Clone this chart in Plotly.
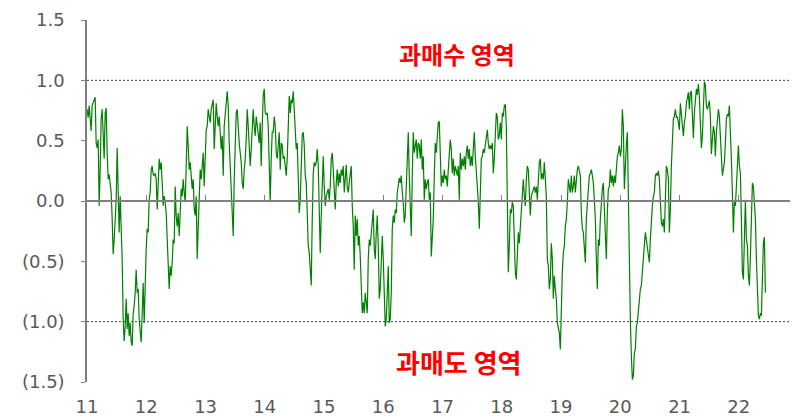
import plotly.graph_objects as go
import pandas as pd

# ---- tick labels ----
tick_years = ["2011-01-01", "2012-01-01", "2013-01-01", "2014-01-01", "2015-01-01", "2016-01-01",
              "2017-01-01", "2018-01-01", "2019-01-01", "2020-01-01", "2021-01-01", "2022-01-01"]
tick_labels = ["11", "12", "13", "14", "15", "16", "17", "18", "19", "20", "21", "22"]
y_ticks = [-1.5, -1.0, -0.5, 0.0, 0.5, 1.0, 1.5]
y_tick_labels = ["(1.5)", "(1.0)", "(0.5)", "0.0", "0.5", "1.0", "1.5"]

# ---- series values (roughly weekly readings, consecutive segments) ----
seg_2011 = [0.76, 0.69, 0.79, 0.65, 0.58, 0.79, 0.81, 0.84, 0.86, 0.48,
            0.44, 0.51, -0.04, 0.26, 0.68, 0.76, 0.48, 0.35, 0.73, 0.77,
            0.40, 0.18, 0.22, 0.15, 0.07, -0.15, -0.44, -0.32, -0.15, 0.01,
            0.44, 0.07, -0.26, 0.04, -0.15, -0.48, -0.98, -1.16, -1.04, -0.81,
            -1.06, -0.93, -1.12, -1.01, -1.17, -1.20, -0.93, -0.87, -0.76, -0.57,
            -0.76, -0.73, -0.98, -1.12, -1.17, -0.93, -0.68, -1.01, -0.62, -0.40,
            -0.23, -0.26, 0.01, 0.07, 0.26, 0.29, 0.22, 0.21, 0.23, 0.18,
            -0.07, 0.21, 0.35, 0.26, 0.32, 0.15, -0.04, 0.04, -0.01, -0.10,
            -0.37, -0.54, -0.73, -0.54, -0.62, -0.51, -0.32]
seg_2012 = [-0.35, 0.12, -0.12, -0.21, -0.10, -0.29, -0.10, 0.10, 0.04, 0.18,
            0.07, -0.01, 0.29, 0.62, 0.46, 0.26, 0.32, 0.18, 0.10, 0.18,
            -0.07, -0.12, 0.04, -0.48, -0.21, 0.12, 0.26, 0.18, 0.35, 0.40,
            0.12, 0.48, 0.59, 0.62, 0.76, 0.70, 0.65, 0.76, 0.81, 0.84,
            0.43, 0.62, 0.81, 0.70, 0.62, 0.70, 0.57, 0.43, 0.54, 0.21,
            0.62, 0.76, 0.81, 0.91, 0.79, 0.48, 0.29, 0.21, 0.04, -0.29,
            0.18, 0.62, 0.73, 0.76, 0.59, 0.48, 0.40, 0.32, 0.15, 0.10,
            0.26, 0.35, 0.51, 0.76, 0.62, 0.43, 0.29, 0.43, 0.62, 0.76,
            0.62, 0.54, 0.70, 0.62, 0.59, 0.48]
seg_2014 = [0.65, 0.29, 0.62, 0.87, 0.93, 0.73, 0.72, 0.73, 0.62, 0.12,
            -0.01, 0.35, 0.57, 0.57, 0.70, 0.62, 0.40, 0.35, 0.46, 0.57,
            0.26, 0.48, 0.46, 0.35, 0.37, 0.29, 0.21, 0.35, 0.54, 0.87,
            0.73, 0.84, 0.81, 0.91, 0.76, 0.51, 0.43, 0.48, 0.12, -0.10,
            0.01, 0.40, 0.55, 0.57, 0.46, 0.21, 0.15, -0.10, -0.37, -0.43,
            -0.62, -0.70, -0.15, 0.23, 0.32, 0.29, 0.32, 0.43, 0.29, 0.01,
            -0.43, -0.12, 0.26, 0.37, 0.12, -0.04, 0.04, 0.07, 0.10, 0.01,
            0.12, 0.35, 0.40, 0.26, 0.01, -0.07, 0.15, 0.26, 0.12, 0.23,
            0.15, 0.26, 0.21, 0.29, 0.07, 0.23]
seg_2015 = [0.30, 0.12, 0.07, 0.15, 0.26, 0.29, -0.04, -0.21, -0.57, -0.12,
            -0.29, -0.15, -0.37, -0.29, -0.46, -0.76, -0.93, -0.84, -0.93, -0.76,
            -0.87, -0.93, -0.48, -0.32, -0.37, -0.26, -0.15, -0.07, -0.40, -0.48,
            -0.26, -0.12, -0.37, -0.81, -0.73, -0.48, -0.29, -0.48, -0.87, -1.04,
            -0.98, -0.76, -0.54, -1.01, -0.98, -0.76, -0.23, -0.12, -0.18, -0.07,
            -0.10, 0.07, 0.12, 0.19, 0.15, 0.21, 0.07, -0.01, -0.18, -0.12,
            0.12, 0.40, 0.57, 0.21, -0.01, -0.29, 0.21, 0.57, 0.40, 0.48,
            0.51, 0.35, 0.48, 0.46, 0.35, 0.51, 0.26, 0.37, 0.01, 0.18,
            0.10, 0.15, 0.18, 0.01, 0.07, -0.46]
seg_2017 = [-0.30, -0.15, 0.21, 0.48, 0.40, 0.54, 0.65, 0.66, 0.35, 0.12,
            0.21, 0.15, 0.26, 0.18, 0.21, 0.12, 0.26, 0.40, 0.51, 0.43,
            0.23, 0.35, 0.21, 0.29, 0.23, 0.21, 0.29, 0.01, 0.40, 0.26,
            0.35, 0.29, 0.37, 0.26, 0.40, 0.46, 0.35, 0.43, 0.29, 0.37,
            0.29, 0.46, 0.57, 0.37, 0.26, 0.10, -0.01, -0.23, 0.07, 0.35,
            0.37, 0.43, 0.40, 0.46, 0.51, 0.59, 0.48, 0.43, 0.46, 0.43,
            0.48, 0.23, 0.35, 0.54, 0.73, 0.70, 0.51, 0.54, 0.65, 0.51,
            0.73, 0.70, 0.79, 0.80, 0.62, 0.01, -0.59, -0.37, -0.07, -0.10,
            -0.01, -0.04, -0.48, -0.59, -0.65, -0.48]
seg_2018 = [-0.26, -0.35, -0.21, -0.10, 0.10, 0.18, 0.04, -0.04, 0.18, 0.29,
            0.26, 0.07, -0.12, 0.04, 0.07, 0.10, 0.12, 0.07, 0.12, 0.01,
            0.21, 0.32, 0.35, 0.18, 0.23, 0.18, 0.32, 0.15, 0.04, -0.48,
            -0.54, -0.73, -0.65, -0.35, -0.48, -0.81, -0.62, -0.73, -0.81, -1.01,
            -1.04, -1.09, -1.23, -0.76, -0.59, -0.43, -0.37, -0.21, -0.15, -0.01,
            0.18, 0.12, 0.07, 0.21, 0.07, 0.12, 0.21, 0.07, 0.18, 0.26,
            0.29, 0.26, 0.21, -0.10, -0.23, -0.26, -0.37, -0.51, -0.15, 0.01,
            0.10, 0.21, 0.23, 0.26, 0.21, 0.15, 0.01, -0.15, -0.48, -0.73,
            -0.32, -0.37, -0.15, 0.01, 0.10, 0.15]
seg_2020 = [-0.07, -0.32, -0.48, -0.10, 0.10, 0.12, 0.26, 0.15, 0.21, 0.12,
            0.21, 0.15, 0.29, 0.37, 0.40, 0.46, 0.37, 0.43, 0.76, 0.62,
            0.10, 0.35, 0.46, 0.57, 0.07, -0.76, -0.98, -1.28, -1.48, -1.45,
            -1.26, -1.23, -1.04, -1.01, -0.90, -0.81, -0.73, -0.70, -0.59, -0.54,
            -0.40, -0.26, -0.32, -0.40, -0.48, -0.51, -0.32, -0.12, -0.04, 0.04,
            0.07, 0.21, 0.23, 0.21, 0.25, 0.18, -0.04, -0.18, -0.21, -0.15,
            -0.26, 0.01, 0.29, 0.26, 0.18, -0.26, -0.07, 0.29, 0.59, 0.68,
            0.70, 0.76, 0.69, 0.70, 0.65, 0.59, 0.81, 0.72, 0.59, 0.54,
            0.65, 0.70, 0.81, 0.87, 0.90, 0.76]
seg_2021 = [0.90, 0.91, 0.70, 0.52, 0.73, 0.87, 0.93, 0.88, 0.97, 0.86,
            0.62, 0.44, 0.54, 0.84, 0.99, 0.96, 0.79, 0.76, 0.81, 0.83,
            0.70, 0.39, 0.51, 0.62, 0.57, 0.37, 0.57, 0.68, 0.76, 0.70,
            0.57, 0.37, 0.21, 0.29, 0.32, 0.48, 0.68, 0.72, 0.70, 0.79,
            0.62, 0.35, 0.07, -0.26, -0.01, -0.04, 0.12, 0.35, 0.46, 0.29,
            0.23, -0.15, -0.59, -0.65, -0.21, 0.01, -0.32, -0.37, -0.62, -0.70,
            -0.46, -0.12, 0.15, 0.12, -0.04, -0.15, -0.48, -0.76, -0.95, -0.98,
            -0.93, -0.95, -0.62, -0.35, -0.30, -0.76]

values = seg_2011 + seg_2012 + seg_2014 + seg_2015 + seg_2017 + seg_2018 + seg_2020 + seg_2021
dates = pd.date_range("2011-01-02", periods=len(values), freq="148h")

AXIS_GREY = "#7f7f7f"
TEXT_GREY = "#595959"
x_range = ["2011-01-01", "2023-01-01"]

fig = go.Figure()
fig.add_trace(go.Scatter(x=dates, y=values, mode="lines",
                         line=dict(color="#008000", width=1.2),
                         hoverinfo="skip", showlegend=False))
# empty trace so the label-only bottom axis is drawn
fig.add_trace(go.Scatter(x=[], y=[], xaxis="x2", yaxis="y", mode="lines",
                         hoverinfo="skip", showlegend=False))

# the page body has an 8px default margin; margins below compensate for it
fig.update_layout(
    template="none",
    width=798, height=416,
    margin=dict(l=79, r=8, t=12, b=42, autoexpand=False),
    paper_bgcolor="white", plot_bgcolor="white",
    font=dict(family="DejaVu Sans", size=18, color=TEXT_GREY),
    showlegend=False,
    xaxis=dict(type="date", range=x_range, anchor="free", position=0.5,
               showline=True, linecolor=AXIS_GREY, linewidth=1.5,
               ticks="inside", ticklen=5, tickwidth=1.2, tickcolor=AXIS_GREY,
               tickvals=tick_years, showticklabels=False, automargin=False,
               showgrid=False, zeroline=False),
    xaxis2=dict(type="date", range=x_range, overlaying="x", anchor="y", side="bottom",
                showline=False, ticks="", tickvals=tick_years, ticktext=tick_labels,
                ticklabelstandoff=12, showgrid=False, zeroline=False, automargin=False,
                tickfont=dict(family="DejaVu Sans", size=18, color=TEXT_GREY)),
    yaxis=dict(range=[-1.5, 1.5], tickvals=y_ticks, ticktext=y_tick_labels,
               showline=True, linecolor=AXIS_GREY, linewidth=1.5,
               ticks="outside", ticklen=4, tickwidth=1.2, tickcolor=AXIS_GREY,
               ticklabelstandoff=13, showgrid=False, zeroline=False, automargin=False,
               tickfont=dict(family="DejaVu Sans", size=18, color=TEXT_GREY)),
)

for yv in [1.0, -1.0]:
    fig.add_shape(type="line", xref="paper", x0=0, x1=1, yref="y", y0=yv, y1=yv,
                  line=dict(color="#404040", width=1, dash="2px,2px"), layer="below")

fig.add_annotation(x="2017-04-01", y=1.225, text="<b>과매수 영역</b>", showarrow=False,
                   font=dict(family="Noto Sans CJK KR", size=24, color="#ff0000"))
fig.add_annotation(x="2017-04-15", y=-1.33, text="<b>과매도 영역</b>", showarrow=False,
                   font=dict(family="Noto Sans CJK KR", size=26, color="#ff0000"))

fig.write_html("out.html")
